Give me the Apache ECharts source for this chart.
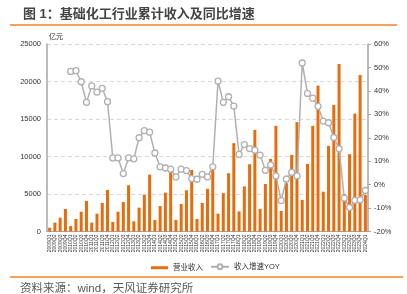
<!DOCTYPE html>
<html>
<head>
<meta charset="utf-8">
<script src="https://cdn.jsdelivr.net/npm/echarts@6/dist/echarts.min.js"></script>
<style>
html, body { margin: 0; padding: 0; background: #fff; }
#chart { width: 407px; height: 294px; }
</style>
</head>
<body>
<div id="chart"></div>
<script>
// quarters 2009Q1 .. 2024Q1
var years = ['2009', '2010', '2011', '2012', '2013', '2014', '2015', '2016',
	'2017', '2018', '2019', '2020', '2021', '2022', '2023', '2024'];
var quarters = [];
years.forEach(function(y) {
	['Q1', 'Q2', 'Q3', 'Q4'].forEach(function(q) {
		if (quarters.length < 61) quarters.push(y + q);
	});
});

// 营业收入 (亿元)
var revenue = [
	510, 1180, 1840, 3000,
	730, 1670, 2640, 4070,
	1180, 2380, 3800, 5540,
	1270, 2640, 3940, 6170,
	1360, 3180, 4910, 7580,
	1540, 3400, 5180, 8040,
	1540, 3670, 5500, 8210,
	1670, 3800, 5690, 8500,
	2380, 5120, 7770, 11780,
	2680, 6010, 8970, 13550,
	3000, 6340, 9680, 14090,
	2740, 6450, 10210, 14580,
	4210, 9010, 14090, 19450,
	5310, 11420, 16890, 22340,
	5000, 10310, 15720, 20870,
	4880
];

// 收入增速YOY (%), first year has no value
var yoy = [
	null, null, null, null,
	48.3, 48.6, 43.9, 35.1,
	42.1, 39.5, 41.1, 35.4,
	11.4, 11.4, 4.7, 11.4,
	11.0, 20.0, 23.0, 22.4,
	13.5, 7.6, 7.1, 6.6,
	3.3, 6.6, 6.0, 2.6,
	2.3, 4.4, 3.3, 7.6,
	44.2, 35.1, 37.5, 33.5,
	12.9, 17.1, 15.4, 14.7,
	12.6, 6.1, 8.4, 3.7,
	-6.8, 2.4, 5.2, 3.7,
	51.9, 38.9, 36.9, 33.4,
	27.1, 26.4, 20.1, 15.3,
	-5.8, -9.8, -6.7, -6.5,
	-2.5
];

var font = '"Liberation Sans", "Noto Sans CJK SC", sans-serif';

var myChart = echarts.init(document.getElementById('chart'));
var option = {
	animation: false,
	textStyle: { fontFamily: font },
	title: {
		text: '图 1：基础化工行业累计收入及同比增速',
		left: 18,
		top: 3,
		textStyle: {
			fontSize: 13,
			fontWeight: 'bold',
			color: '#444',
			fontFamily: font
		}
	},
	graphic: [
		{ type: 'rect', shape: { x: 10, y: 24, width: 387, height: 2 }, style: { fill: '#f5a35c' } },
		{ type: 'rect', shape: { x: 10, y: 276, width: 393, height: 2 }, style: { fill: '#f5a35c' } },
		{
			type: 'text', left: 20, top: 283,
			style: { text: '资料来源：wind，天风证券研究所', fontSize: 11.5, fill: '#595959', fontFamily: font }
		}
	],
	legend: [
		{
			data: [{ name: '营业收入', icon: 'rect' }],
			left: 146, top: 259,
			itemWidth: 17, itemHeight: 3,
			itemGap: 4,
			textStyle: { fontSize: 7.5, color: '#333', fontFamily: font }
		},
		{
			data: ['收入增速YOY'],
			left: 205, top: 258,
			itemWidth: 18, itemHeight: 6,
			textStyle: { fontSize: 7.5, color: '#333', fontFamily: font }
		}
	],
	grid: { left: 47, right: 39, top: 44, bottom: 62.5 },
	xAxis: {
		type: 'category',
		data: quarters,
		axisLine: { lineStyle: { color: '#a6a6a6', width: 1 } },
		axisTick: { alignWithLabel: false, length: 2, lineStyle: { color: '#333' } },
		axisLabel: { interval: 0, rotate: 90, fontSize: 5, color: '#333', margin: 3 }
	},
	yAxis: [
		{
			type: 'value',
			min: 0, max: 25000, interval: 5000,
			name: '亿元',
			nameLocation: 'end',
			nameGap: 3,
			nameTextStyle: { fontSize: 7, color: '#333', align: 'left', padding: [0, 0, 0, 2] },
			axisLine: { show: true, lineStyle: { color: '#a6a6a6', width: 1.5 } },
			axisTick: { show: false },
			axisLabel: {
				fontSize: 7.5, color: '#333', margin: 6,
				formatter: function(v) { return String(v); }
			},
			splitLine: { lineStyle: { type: [4, 3], color: '#d9d9d9' } }
		},
		{
			type: 'value',
			min: -20, max: 60, interval: 10,
			axisLine: { show: true, lineStyle: { color: '#a6a6a6', width: 1.5 } },
			axisTick: { show: true, length: 3, lineStyle: { color: '#a6a6a6' } },
			axisLabel: { fontSize: 7.5, color: '#333', margin: 6, formatter: '{value}%' },
			splitLine: { show: false }
		}
	],
	series: [
		{
			name: '营业收入',
			type: 'bar',
			data: revenue,
			barWidth: 3,
			itemStyle: { color: '#e86c0c' }
		},
		{
			name: '收入增速YOY',
			type: 'line',
			yAxisIndex: 1,
			data: yoy,
			symbol: 'circle',
			symbolSize: 6,
			showAllSymbol: true,
			lineStyle: { color: '#b0b0b0', width: 1.5 },
			itemStyle: { color: '#ffffff', borderColor: '#b0b0b0', borderWidth: 1.3 }
		}
	]
};
myChart.setOption(option);
</script>
</body>
</html>
